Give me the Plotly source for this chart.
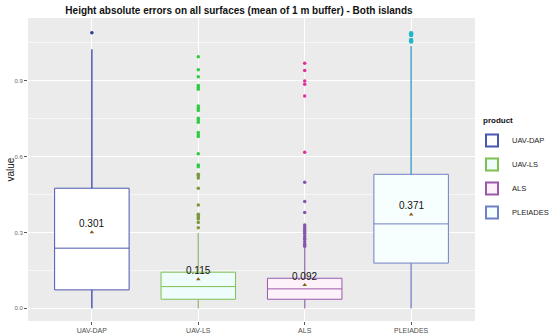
import plotly.graph_objects as go

categories = ["UAV-DAP", "UAV-LS", "ALS", "PLEIADES"]
q1 = [0.073, 0.036, 0.036, 0.179]
median = [0.238, 0.086, 0.077, 0.334]
q3 = [0.475, 0.143, 0.119, 0.530]
lower_whisker = [0.0, 0.0, 0.0, 0.0]
upper_whisker = [1.024, 0.298, 0.240, 1.037]
means = [0.301, 0.115, 0.092, 0.371]
mean_labels = ["0.301", "0.115", "0.092", "0.371"]

outliers_dap = [1.09]
outliers_ls = [0.995, 0.943, 0.916, 0.881, 0.873, 0.866, 0.800, 0.791, 0.782, 0.752,
               0.745, 0.736, 0.695, 0.686, 0.679, 0.611, 0.567, 0.560, 0.530, 0.524,
               0.515, 0.475, 0.409, 0.372, 0.366, 0.359, 0.353, 0.339, 0.319]
outliers_als = [0.969, 0.940, 0.899, 0.886, 0.840, 0.617, 0.499, 0.422, 0.379,
                0.330, 0.322, 0.313, 0.304, 0.297, 0.287, 0.278, 0.272, 0.262, 0.253, 0.246]
outliers_ple = [1.088, 1.081, 1.061, 1.055]

line_colors = ["#4a56b0", "#7fc050", "#9a5aac", "#6f80c4"]
fill_colors = ["#ffffff", "#eefcfb", "#fdf2f9", "#f6fefe"]
lower_whisker_colors = ["#4a56b0", "#a3b894", "#9a80b0", "#8a93c8"]
upper_whisker_colors = ["#4a56b0", "#a3b894", "#9a80b0", "#3ab0cc"]

fig = go.Figure()

for i, c in enumerate(categories):
    fig.add_trace(go.Box(
        x=[c], q1=[q1[i]], median=[median[i]], q3=[q3[i]],
        lowerfence=[lower_whisker[i]], upperfence=[upper_whisker[i]],
        name=c, legendgroup=c, width=0.7, whiskerwidth=0,
        line=dict(color=line_colors[i], width=1),
        fillcolor=fill_colors[i], boxpoints=False, showlegend=True,
        hoverinfo="skip",
    ))

for i, c in enumerate(categories):
    fig.add_trace(go.Scatter(x=[c, c], y=[q3[i], upper_whisker[i]], mode="lines",
                             line=dict(color=upper_whisker_colors[i], width=1),
                             showlegend=False, hoverinfo="skip"))
    fig.add_trace(go.Scatter(x=[c, c], y=[lower_whisker[i], q1[i]], mode="lines",
                             line=dict(color=lower_whisker_colors[i], width=1),
                             showlegend=False, hoverinfo="skip"))

def add_outliers(cat, vals, colors, size):
    fig.add_trace(go.Scatter(x=[cat] * len(vals), y=vals, mode="markers",
                             marker=dict(color=colors, size=size, line=dict(width=0)),
                             showlegend=False, hoverinfo="skip"))

add_outliers("UAV-DAP", outliers_dap, "#2a3f90", 3.5)
add_outliers("UAV-LS", outliers_ls,
             ["#2ecc40" if v > 0.55 else "#7a9a3a" for v in outliers_ls], 3.5)
add_outliers("ALS", outliers_als,
             ["#e0309a" if v > 0.6 else "#8855aa" for v in outliers_als], 3.5)
add_outliers("PLEIADES", outliers_ple, "#20b8c8", 4.5)

fig.add_trace(go.Scatter(x=categories, y=means, mode="markers",
                         marker=dict(symbol="triangle-up", size=4, color="#8b5a10"),
                         showlegend=False, hoverinfo="skip"))
for c, m, t in zip(categories, means, mean_labels):
    fig.add_annotation(x=c, y=m, text=t, showarrow=False, yshift=9,
                       font=dict(family="Liberation Sans, Arial", size=10, color="#111111"))

fig.update_layout(
    width=550, height=335,
    margin=dict(l=28, r=75, t=18, b=14, autoexpand=False),
    paper_bgcolor="white", plot_bgcolor="#ebebeb",
    font=dict(family="Liberation Sans, Arial", color="#4d4d4d"),
    title=dict(text="<b>Height absolute errors on all surfaces (mean of 1 m buffer) - Both islands</b>",
               x=239 / 550, xanchor="center", y=1 - 10 / 335, yanchor="middle",
               font=dict(size=10, color="#111111")),
    boxmode="overlay",
    legend=dict(x=(472 - 28) / 447, xanchor="left", y=1 - (126 - 18) / 303, yanchor="top",
                font=dict(size=7.5, color="#222222"), bgcolor="rgba(0,0,0,0)",
                tracegroupgap=5, itemsizing="constant"),
    showlegend=True,
)
fig.update_xaxes(type="category", categoryorder="array", categoryarray=categories,
                 range=[-0.6, 3.6], showgrid=True, gridcolor="white", gridwidth=1,
                 ticks="outside", ticklen=3, tickcolor="#555555", automargin=False,
                 tickfont=dict(size=7, color="#4d4d4d"), zeroline=False)
fig.update_yaxes(range=[-0.05, 1.148], tickvals=[0.0, 0.3, 0.6, 0.9],
                 ticktext=["0.0", "0.3", "0.6", "0.9"],
                 showgrid=True, gridcolor="white", gridwidth=1.1,
                 minor=dict(tickvals=[0.15, 0.45, 0.75, 1.05], showgrid=True,
                            gridcolor="#f7f7f7", gridwidth=0.6),
                 ticks="outside", ticklen=3, tickcolor="#555555", automargin=False,
                 tickfont=dict(size=6, color="#666666"), zeroline=False)
fig.add_annotation(text="value", x=-18 / 447, xref="paper", xanchor="center",
                   y=0.5, yref="paper", textangle=-90, showarrow=False,
                   font=dict(size=10, color="#111111"))
fig.add_annotation(text="<b>product</b>", x=(481 - 28) / 447, xref="paper", xanchor="left",
                   y=1 - (120 - 18) / 303, yref="paper", yanchor="middle", showarrow=False,
                   font=dict(size=8, color="#111111"))

fig.write_html("out.html", config={"displayModeBar": False},
               post_script="document.body.style.margin='0';")
